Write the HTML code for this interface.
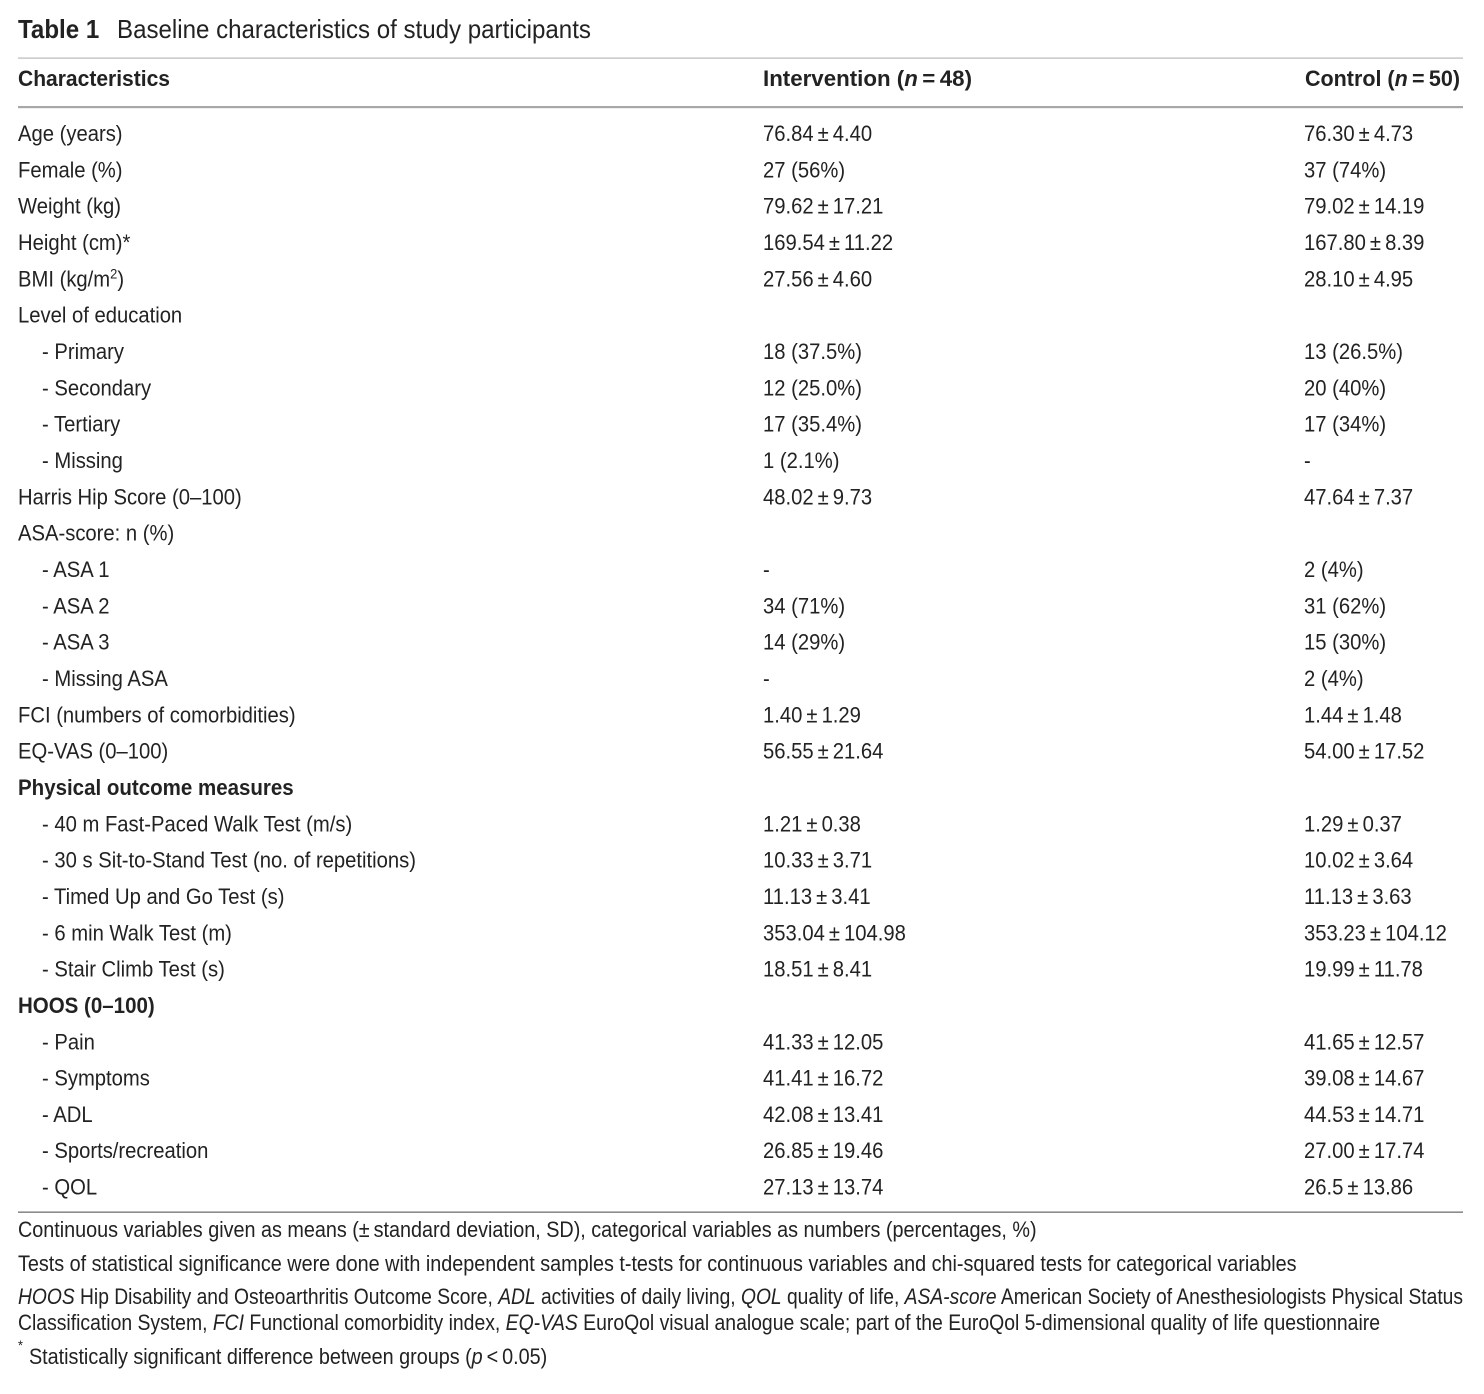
<!DOCTYPE html>
<html>
<head>
<meta charset="utf-8">
<style>
html,body{margin:0;padding:0;background:#fff;}
svg{display:block;}
text{font-family:"Liberation Sans",Arial,sans-serif;fill:#222;}
</style>
</head>
<body>
<svg width="1484" height="1394" viewBox="0 0 1484 1394" xmlns="http://www.w3.org/2000/svg">
<rect width="1484" height="1394" fill="#fff"/>
<!-- rules -->
<rect x="18" y="57.5" width="1445" height="1.2" fill="#b8b8b8"/>
<rect x="18" y="106" width="1445" height="2.2" fill="#a8a8a8"/>
<rect x="18" y="1211.5" width="1445" height="1.3" fill="#707070"/>

<!-- header (unscaled, exact widths) -->
<text x="18" y="86" font-size="22.5" font-weight="bold" textLength="152" lengthAdjust="spacingAndGlyphs">Characteristics</text>
<text x="763" y="86" font-size="22.5" font-weight="bold" textLength="209" lengthAdjust="spacingAndGlyphs">Intervention (<tspan font-style="italic">n</tspan>&#8201;=&#8201;48)</text>
<text x="1305" y="86" font-size="22.5" font-weight="bold" textLength="155" lengthAdjust="spacingAndGlyphs">Control (<tspan font-style="italic">n</tspan>&#8201;=&#8201;50)</text>

<g transform="scale(0.92 1)">
  <!-- title -->
  <text x="19.57" y="38" font-size="26.2" font-weight="bold">Table 1</text>
  <text x="127.2" y="38" font-size="26.2">Baseline characteristics of study participants</text>

  <g font-size="22">
    <!-- column 1 -->
    <text x="19.57" y="141">Age (years)</text>
    <text x="19.57" y="177.3">Female (%)</text>
    <text x="19.57" y="213.7">Weight (kg)</text>
    <text x="19.57" y="250">Height (cm)*</text>
    <text x="19.57" y="286.3">BMI (kg/m<tspan font-size="14" dy="-8">2</tspan><tspan dy="8">)</tspan></text>
    <text x="19.57" y="322.7">Level of education</text>
    <text x="45.65" y="359">- Primary</text>
    <text x="45.65" y="395.3">- Secondary</text>
    <text x="45.65" y="431.6">- Tertiary</text>
    <text x="45.65" y="468">- Missing</text>
    <text x="19.57" y="504.3">Harris Hip Score (0–100)</text>
    <text x="19.57" y="540.6">ASA-score: n (%)</text>
    <text x="45.65" y="577">- ASA 1</text>
    <text x="45.65" y="613.3">- ASA 2</text>
    <text x="45.65" y="649.6">- ASA 3</text>
    <text x="45.65" y="686">- Missing ASA</text>
    <text x="19.57" y="722.3">FCI (numbers of comorbidities)</text>
    <text x="19.57" y="758.6">EQ-VAS (0–100)</text>
    <text x="19.57" y="794.9" font-weight="bold" font-size="22.3">Physical outcome measures</text>
    <text x="45.65" y="831.3">- 40 m Fast-Paced Walk Test (m/s)</text>
    <text x="45.65" y="867.6">- 30 s Sit-to-Stand Test (no. of repetitions)</text>
    <text x="45.65" y="903.9">- Timed Up and Go Test (s)</text>
    <text x="45.65" y="940.3">- 6 min Walk Test (m)</text>
    <text x="45.65" y="976.6">- Stair Climb Test (s)</text>
    <text x="19.57" y="1012.9" font-weight="bold" font-size="22.3">HOOS (0–100)</text>
    <text x="45.65" y="1049.3">- Pain</text>
    <text x="45.65" y="1085.6">- Symptoms</text>
    <text x="45.65" y="1121.9">- ADL</text>
    <text x="45.65" y="1158.2">- Sports/recreation</text>
    <text x="45.65" y="1194.6">- QOL</text>

    <!-- intervention column -->
    <text x="829.35" y="141">76.84&#8201;±&#8201;4.40</text>
    <text x="829.35" y="177.3">27 (56%)</text>
    <text x="829.35" y="213.7">79.62&#8201;±&#8201;17.21</text>
    <text x="829.35" y="250">169.54&#8201;±&#8201;11.22</text>
    <text x="829.35" y="286.3">27.56&#8201;±&#8201;4.60</text>
    <text x="829.35" y="359">18 (37.5%)</text>
    <text x="829.35" y="395.3">12 (25.0%)</text>
    <text x="829.35" y="431.6">17 (35.4%)</text>
    <text x="829.35" y="468">1 (2.1%)</text>
    <text x="829.35" y="504.3">48.02&#8201;±&#8201;9.73</text>
    <text x="829.35" y="577">-</text>
    <text x="829.35" y="613.3">34 (71%)</text>
    <text x="829.35" y="649.6">14 (29%)</text>
    <text x="829.35" y="686">-</text>
    <text x="829.35" y="722.3">1.40&#8201;±&#8201;1.29</text>
    <text x="829.35" y="758.6">56.55&#8201;±&#8201;21.64</text>
    <text x="829.35" y="831.3">1.21&#8201;±&#8201;0.38</text>
    <text x="829.35" y="867.6">10.33&#8201;±&#8201;3.71</text>
    <text x="829.35" y="903.9">11.13&#8201;±&#8201;3.41</text>
    <text x="829.35" y="940.3">353.04&#8201;±&#8201;104.98</text>
    <text x="829.35" y="976.6">18.51&#8201;±&#8201;8.41</text>
    <text x="829.35" y="1049.3">41.33&#8201;±&#8201;12.05</text>
    <text x="829.35" y="1085.6">41.41&#8201;±&#8201;16.72</text>
    <text x="829.35" y="1121.9">42.08&#8201;±&#8201;13.41</text>
    <text x="829.35" y="1158.2">26.85&#8201;±&#8201;19.46</text>
    <text x="829.35" y="1194.6">27.13&#8201;±&#8201;13.74</text>

    <!-- control column -->
    <text x="1417.4" y="141">76.30&#8201;±&#8201;4.73</text>
    <text x="1417.4" y="177.3">37 (74%)</text>
    <text x="1417.4" y="213.7">79.02&#8201;±&#8201;14.19</text>
    <text x="1417.4" y="250">167.80&#8201;±&#8201;8.39</text>
    <text x="1417.4" y="286.3">28.10&#8201;±&#8201;4.95</text>
    <text x="1417.4" y="359">13 (26.5%)</text>
    <text x="1417.4" y="395.3">20 (40%)</text>
    <text x="1417.4" y="431.6">17 (34%)</text>
    <text x="1417.4" y="468">-</text>
    <text x="1417.4" y="504.3">47.64&#8201;±&#8201;7.37</text>
    <text x="1417.4" y="577">2 (4%)</text>
    <text x="1417.4" y="613.3">31 (62%)</text>
    <text x="1417.4" y="649.6">15 (30%)</text>
    <text x="1417.4" y="686">2 (4%)</text>
    <text x="1417.4" y="722.3">1.44&#8201;±&#8201;1.48</text>
    <text x="1417.4" y="758.6">54.00&#8201;±&#8201;17.52</text>
    <text x="1417.4" y="831.3">1.29&#8201;±&#8201;0.37</text>
    <text x="1417.4" y="867.6">10.02&#8201;±&#8201;3.64</text>
    <text x="1417.4" y="903.9">11.13&#8201;±&#8201;3.63</text>
    <text x="1417.4" y="940.3">353.23&#8201;±&#8201;104.12</text>
    <text x="1417.4" y="976.6">19.99&#8201;±&#8201;11.78</text>
    <text x="1417.4" y="1049.3">41.65&#8201;±&#8201;12.57</text>
    <text x="1417.4" y="1085.6">39.08&#8201;±&#8201;14.67</text>
    <text x="1417.4" y="1121.9">44.53&#8201;±&#8201;14.71</text>
    <text x="1417.4" y="1158.2">27.00&#8201;±&#8201;17.74</text>
    <text x="1417.4" y="1194.6">26.5&#8201;±&#8201;13.86</text>
  </g>
</g>

<!-- footnotes -->
<g transform="scale(0.9 1)" font-size="22">
  <text x="20" y="1237">Continuous variables given as means (±&#8201;standard deviation, SD), categorical variables as numbers (percentages, %)</text>
  <text x="20" y="1271">Tests of statistical significance were done with independent samples t-tests for continuous variables and chi-squared tests for categorical variables</text>
  <text x="20" y="1350" font-size="14">*</text>
  <text x="32.2" y="1364">Statistically significant difference between groups (<tspan font-style="italic">p</tspan>&#8201;&lt;&#8201;0.05)</text>
</g>
<text x="18" y="1304" font-size="22" textLength="1445" lengthAdjust="spacingAndGlyphs"><tspan font-style="italic">HOOS</tspan> Hip Disability and Osteoarthritis Outcome Score, <tspan font-style="italic">ADL</tspan> activities of daily living, <tspan font-style="italic">QOL</tspan> quality of life, <tspan font-style="italic">ASA-score</tspan> American Society of Anesthesiologists Physical Status</text>
<text x="18" y="1330" font-size="22" textLength="1362" lengthAdjust="spacingAndGlyphs">Classification System, <tspan font-style="italic">FCI</tspan> Functional comorbidity index, <tspan font-style="italic">EQ-VAS</tspan> EuroQol visual analogue scale; part of the EuroQol 5-dimensional quality of life questionnaire</text>
</svg>
</body>
</html>
